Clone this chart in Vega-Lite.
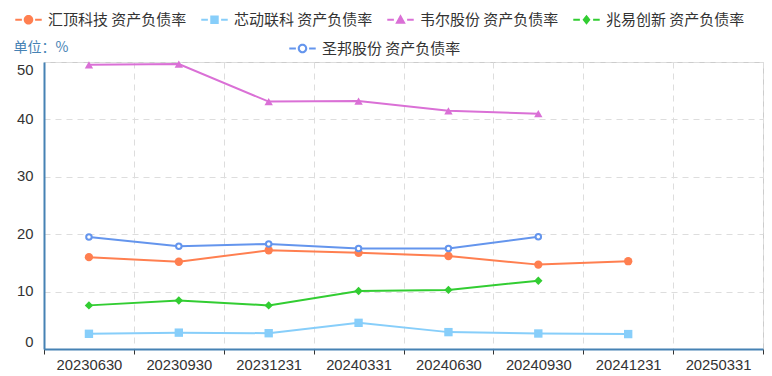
{
  "$schema": "https://vega.github.io/schema/vega-lite/v6.json",
  "width": 719,
  "height": 287,
  "autosize": {"type": "none"},
  "padding": {"left": 44, "top": 62, "right": 9, "bottom": 27},
  "background": "white",
  "config": {
    "font": "Noto Sans CJK SC",
    "view": {"stroke": "#cccccc", "strokeWidth": 1},
    "axis": {"labelFont": "Liberation Sans", "labelColor": "#333333", "labelFontSize": 14.8}
  },
  "data": {
    "values": [
      {"date": "20230630", "series": "汇顶科技 资产负债率", "value": 16.0},
      {"date": "20230930", "series": "汇顶科技 资产负债率", "value": 15.2},
      {"date": "20231231", "series": "汇顶科技 资产负债率", "value": 17.2},
      {"date": "20240331", "series": "汇顶科技 资产负债率", "value": 16.76},
      {"date": "20240630", "series": "汇顶科技 资产负债率", "value": 16.2},
      {"date": "20240930", "series": "汇顶科技 资产负债率", "value": 14.7},
      {"date": "20241231", "series": "汇顶科技 资产负债率", "value": 15.3},
      {"date": "20230630", "series": "芯动联科 资产负债率", "value": 2.65},
      {"date": "20230930", "series": "芯动联科 资产负债率", "value": 2.85},
      {"date": "20231231", "series": "芯动联科 资产负债率", "value": 2.75},
      {"date": "20240331", "series": "芯动联科 资产负债率", "value": 4.56},
      {"date": "20240630", "series": "芯动联科 资产负债率", "value": 2.94},
      {"date": "20240930", "series": "芯动联科 资产负债率", "value": 2.7},
      {"date": "20241231", "series": "芯动联科 资产负债率", "value": 2.6},
      {"date": "20230630", "series": "韦尔股份 资产负债率", "value": 49.5},
      {"date": "20230930", "series": "韦尔股份 资产负债率", "value": 49.65},
      {"date": "20231231", "series": "韦尔股份 资产负债率", "value": 43.1},
      {"date": "20240331", "series": "韦尔股份 资产负债率", "value": 43.2},
      {"date": "20240630", "series": "韦尔股份 资产负债率", "value": 41.5},
      {"date": "20240930", "series": "韦尔股份 资产负债率", "value": 41.0},
      {"date": "20230630", "series": "兆易创新 资产负债率", "value": 7.6},
      {"date": "20230930", "series": "兆易创新 资产负债率", "value": 8.45},
      {"date": "20231231", "series": "兆易创新 资产负债率", "value": 7.6},
      {"date": "20240331", "series": "兆易创新 资产负债率", "value": 10.1},
      {"date": "20240630", "series": "兆易创新 资产负债率", "value": 10.3},
      {"date": "20240930", "series": "兆易创新 资产负债率", "value": 11.9},
      {"date": "20230630", "series": "圣邦股份 资产负债率", "value": 19.5},
      {"date": "20230930", "series": "圣邦股份 资产负债率", "value": 17.9},
      {"date": "20231231", "series": "圣邦股份 资产负债率", "value": 18.3},
      {"date": "20240331", "series": "圣邦股份 资产负债率", "value": 17.5},
      {"date": "20240630", "series": "圣邦股份 资产负债率", "value": 17.5},
      {"date": "20240930", "series": "圣邦股份 资产负债率", "value": 19.55}
    ]
  },
  "encoding": {
    "x": {
      "field": "date", "type": "nominal",
      "scale": {"type": "band", "paddingInner": 0, "paddingOuter": 0,
        "domain": ["20230630","20230930","20231231","20240331","20240630","20240930","20241231","20250331"]},
      "axis": {"title": null, "labelAngle": 0, "tickBand": "extent", "grid": true,
        "gridColor": "#dddddd", "gridDash": [6, 5], "gridWidth": 1,
        "domainColor": "#4682b4", "domainWidth": 2, "tickColor": "#333333", "tickSize": 5,
        "labelPadding": 3}
    },
    "y": {
      "field": "value", "type": "quantitative",
      "scale": {"domain": [0, 50], "nice": false},
      "axis": {"title": "单位：%", "titleAngle": 0, "titleAlign": "left", "titleBaseline": "middle",
        "titleX": -31, "titleY": -15, "titleColor": "#4682b4", "titleFontSize": 14, "titleFontWeight": "normal",
        "titleFont": "Noto Sans CJK SC",
        "values": [0, 10, 20, 30, 40, 50], "ticks": false, "labelPadding": 11, "labelFlush": true,
        "grid": true, "gridColor": "#dddddd", "gridDash": [6, 5], "gridWidth": 1,
        "domainColor": "#4682b4", "domainWidth": 2}
    }
  },
  "layer": [
    {
      "mark": {"type": "line", "strokeWidth": 2},
      "encoding": {
        "color": {"field": "series", "type": "nominal", "legend": null,
          "scale": {"domain": ["汇顶科技 资产负债率","芯动联科 资产负债率","韦尔股份 资产负债率","兆易创新 资产负债率","圣邦股份 资产负债率"],
            "range": ["#ff7f50","#87cefa","#da70d6","#32cd32","#6495ed"]}}
      }
    },
    {
      "transform": [{"filter": "datum.series !== '圣邦股份 资产负债率'"}],
      "mark": {"type": "point", "filled": true, "opacity": 1, "size": 70},
      "encoding": {
        "color": {"field": "series", "type": "nominal", "legend": null,
          "scale": {"domain": ["汇顶科技 资产负债率","芯动联科 资产负债率","韦尔股份 资产负债率","兆易创新 资产负债率"],
            "range": ["#ff7f50","#87cefa","#da70d6","#32cd32"]}},
        "shape": {"field": "series", "type": "nominal", "legend": null,
          "scale": {"domain": ["汇顶科技 资产负债率","芯动联科 资产负债率","韦尔股份 资产负债率","兆易创新 资产负债率"],
            "range": ["circle","square","triangle-up","diamond"]}}
      }
    },
    {
      "transform": [{"filter": "datum.series === '圣邦股份 资产负债率'"}],
      "mark": {"type": "point", "shape": "circle", "filled": false, "fill": "white", "fillOpacity": 1, "stroke": "#6495ed", "strokeWidth": 2, "size": 30, "opacity": 1},
      "encoding": {}
    },
    {
      "transform": [{"filter": "datum.series !== '圣邦股份 资产负债率'"}],
      "mark": {"type": "point", "filled": true, "opacity": 0},
      "encoding": {
        "color": {"field": "series", "type": "nominal",
          "scale": {"domain": ["汇顶科技 资产负债率","芯动联科 资产负债率","韦尔股份 资产负债率","兆易创新 资产负债率"],
            "range": ["#ff7f50","#87cefa","#da70d6","#32cd32"]},
          "legend": {"title": null, "orient": "none", "legendX": -29, "legendY": -56, "direction": "horizontal",
            "symbolSize": 700, "symbolOpacity": 1, "symbolStrokeWidth": 0, "labelFontSize": 15, "labelColor": "#333333",
            "labelFont": "Noto Sans CJK SC", "labelOffset": 6, "columnPadding": 14, "labelLimit": 300}},
        "shape": {"field": "series", "type": "nominal",
          "scale": {"domain": ["汇顶科技 资产负债率","芯动联科 资产负债率","韦尔股份 资产负债率","兆易创新 资产负债率"],
            "range": [
              "M-1,-0.08H-0.5V0.08H-1Z M0.5,-0.08H1V0.08H0.5Z M-0.36,0A0.36,0.36 0 1,1 0.36,0A0.36,0.36 0 1,1 -0.36,0Z",
              "M-1,-0.08H-0.5V0.08H-1Z M0.5,-0.08H1V0.08H0.5Z M-0.32,-0.32H0.32V0.32H-0.32Z",
              "M-1,-0.08H-0.5V0.08H-1Z M0.5,-0.08H1V0.08H0.5Z M0,-0.42L0.4,0.3H-0.4Z",
              "M-1,-0.08H-0.5V0.08H-1Z M0.5,-0.08H1V0.08H0.5Z M0,-0.38L0.3,0L0,0.38L-0.3,0Z"
            ]},
          "legend": {"title": null, "orient": "none", "legendX": -29, "legendY": -56, "direction": "horizontal",
            "symbolSize": 700, "symbolOpacity": 1, "symbolStrokeWidth": 0, "labelFontSize": 15, "labelColor": "#333333",
            "labelFont": "Noto Sans CJK SC", "labelOffset": 6, "columnPadding": 14, "labelLimit": 300}}
      }
    },
    {
      "transform": [{"filter": "datum.series === '圣邦股份 资产负债率'"}],
      "mark": {"type": "point", "filled": true, "opacity": 0},
      "encoding": {
        "color": {"field": "series", "type": "nominal",
          "scale": {"domain": ["圣邦股份 资产负债率"], "range": ["#6495ed"]},
          "legend": {"title": null, "orient": "none", "legendX": 245, "legendY": -27, "direction": "horizontal",
            "symbolSize": 700, "symbolOpacity": 1, "symbolStrokeWidth": 0, "labelFontSize": 15, "labelColor": "#333333",
            "labelFont": "Noto Sans CJK SC", "labelOffset": 6, "labelLimit": 300}},
        "shape": {"field": "series", "type": "nominal",
          "scale": {"domain": ["圣邦股份 资产负债率"],
            "range": ["M-1,-0.08H-0.5V0.08H-1Z M0.5,-0.08H1V0.08H0.5Z M-0.36,0A0.36,0.36 0 1,1 0.36,0A0.36,0.36 0 1,1 -0.36,0Z M-0.2,0A0.2,0.2 0 1,0 0.2,0A0.2,0.2 0 1,0 -0.2,0Z"]},
          "legend": {"title": null, "orient": "none", "legendX": 245, "legendY": -27, "direction": "horizontal",
            "symbolSize": 700, "symbolOpacity": 1, "symbolStrokeWidth": 0, "labelFontSize": 15, "labelColor": "#333333",
            "labelFont": "Noto Sans CJK SC", "labelOffset": 6, "labelLimit": 300}}
      }
    }
  ],
  "resolve": {"scale": {"color": "independent", "shape": "independent"}, "legend": {"color": "independent", "shape": "independent"}}
}
